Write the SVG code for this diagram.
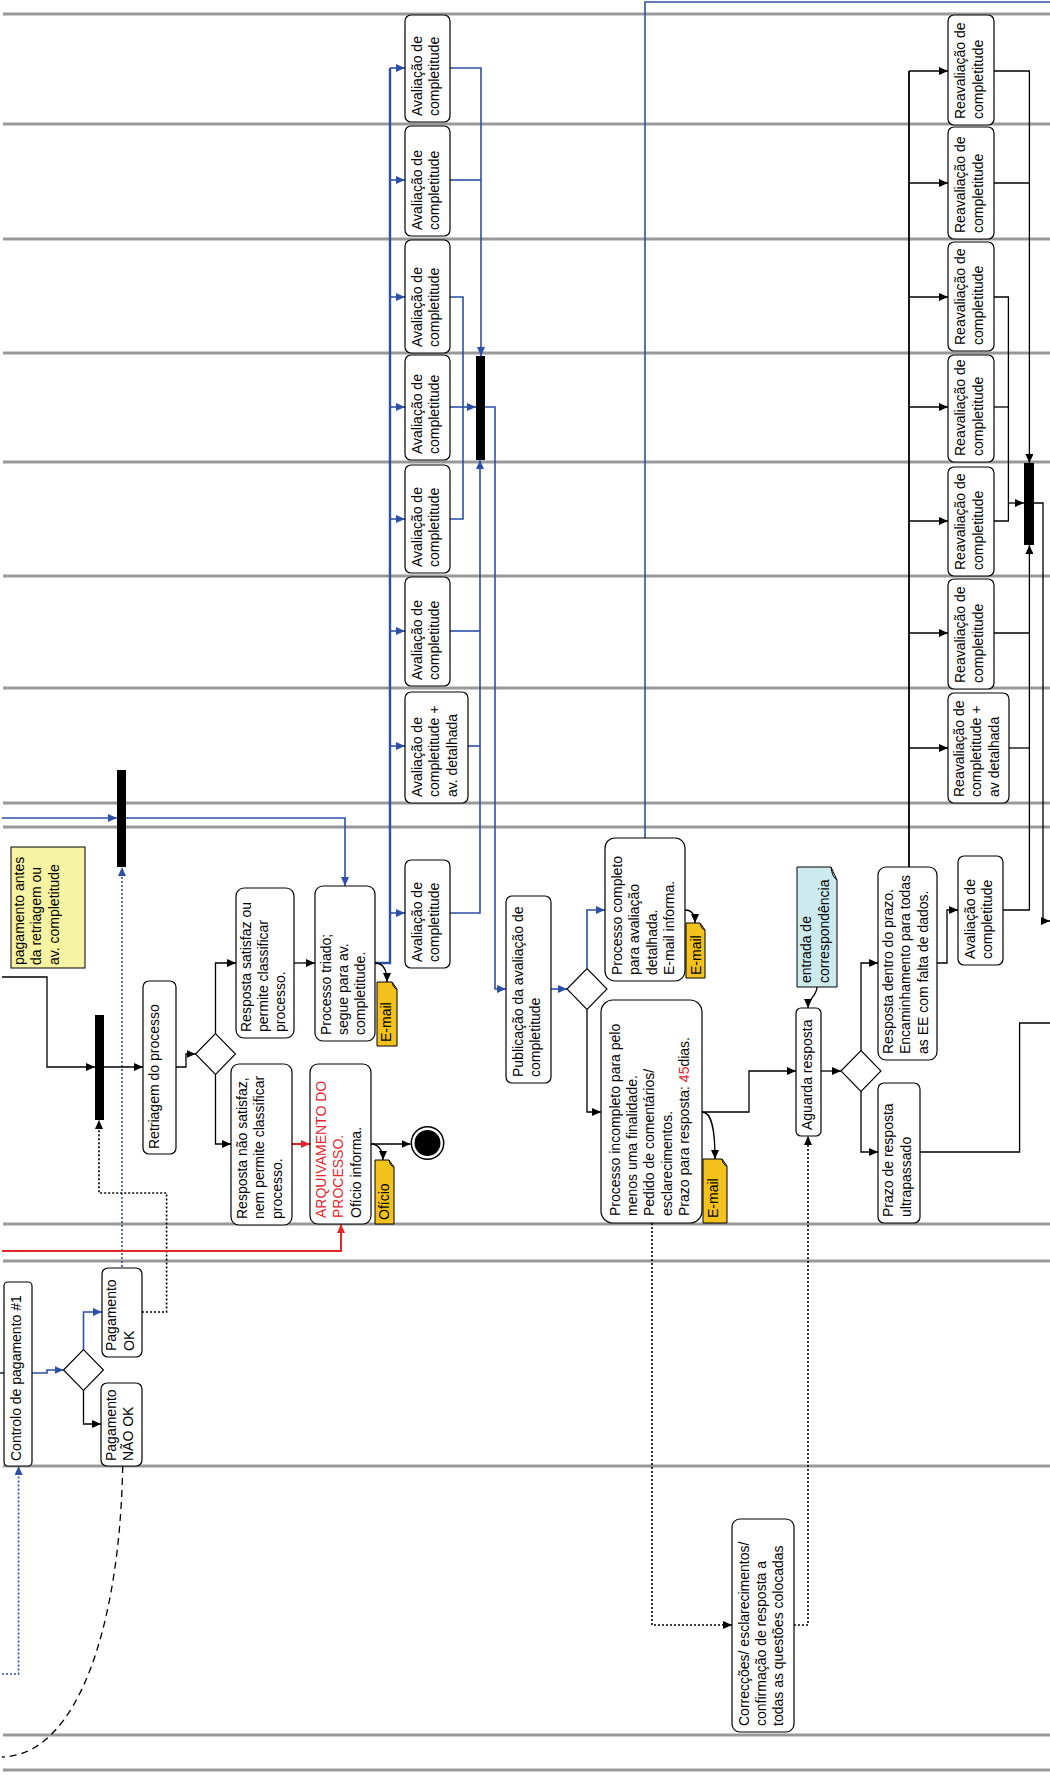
<svg xmlns="http://www.w3.org/2000/svg" width="1050" height="1775" viewBox="0 0 1050 1775">
<style>
.ln{stroke:#999;stroke-width:3}
.nd{fill:#fff;stroke:#000;stroke-width:1.2}
.dm{fill:#fff;stroke:#000;stroke-width:1.1}
.t{font-family:"Liberation Sans",Arial,sans-serif;font-size:14px;fill:#000}
.red{fill:#e3262b}
.k{fill:none;stroke:#000;stroke-width:1.3}
.b{fill:none;stroke:#2d50a7;stroke-width:1.6}
.bt{fill:none;stroke:#2d50a7;stroke-width:2.4}
.rd{fill:none;stroke:#e3262b;stroke-width:2}
.dot{stroke-dasharray:2 2;stroke-width:1.6}
.dash{stroke-dasharray:7 5}
.bar{fill:#000}
.gold{fill:#f4c21d;stroke:#000;stroke-width:1}
.cyan{fill:#cdebee;stroke:#000;stroke-width:1}
.yel{fill:#f6f3a3;stroke:#000;stroke-width:1}
</style>
<defs>
<marker id="ak" markerUnits="userSpaceOnUse" markerWidth="9" markerHeight="8" refX="9" refY="4" orient="auto" viewBox="0 0 9 8"><path d="M0,0 L9,4 L0,8 z" fill="#000"/></marker>
<marker id="ab" markerUnits="userSpaceOnUse" markerWidth="9" markerHeight="8" refX="9" refY="4" orient="auto" viewBox="0 0 9 8"><path d="M0,0 L9,4 L0,8 z" fill="#2d50a7"/></marker>
<marker id="ar" markerUnits="userSpaceOnUse" markerWidth="9" markerHeight="8" refX="9" refY="4" orient="auto" viewBox="0 0 9 8"><path d="M0,0 L9,4 L0,8 z" fill="#e3262b"/></marker>
</defs>

<g id="lanes">
<line class="ln" x1="3" y1="14" x2="1050" y2="14"/>
<line class="ln" x1="3" y1="124" x2="1050" y2="124"/>
<line class="ln" x1="3" y1="239" x2="1050" y2="239"/>
<line class="ln" x1="3" y1="353" x2="1050" y2="353"/>
<line class="ln" x1="3" y1="462" x2="1050" y2="462"/>
<line class="ln" x1="3" y1="576" x2="1050" y2="576"/>
<line class="ln" x1="3" y1="688" x2="1050" y2="688"/>
<line class="ln" x1="3" y1="803" x2="1050" y2="803"/>
<line class="ln" x1="3" y1="827" x2="1050" y2="827"/>
<line class="ln" x1="3" y1="1224" x2="1050" y2="1224"/>
<line class="ln" x1="3" y1="1261" x2="1050" y2="1261"/>
<line class="ln" x1="3" y1="1466" x2="1050" y2="1466"/>
<line class="ln" x1="3" y1="1735" x2="1050" y2="1735"/>
<line class="ln" x1="3" y1="1770" x2="1050" y2="1770"/>
</g>

<g id="connectors">
<!-- blue: avaliação fan-out -->
<path class="bt" d="M375,963 H390 V68"/>
<path class="b" d="M390,68 H405" marker-end="url(#ab)"/>
<path class="b" d="M390,180 H405" marker-end="url(#ab)"/>
<path class="b" d="M390,297 H405" marker-end="url(#ab)"/>
<path class="b" d="M390,407 H405" marker-end="url(#ab)"/>
<path class="b" d="M390,519 H405" marker-end="url(#ab)"/>
<path class="b" d="M390,631 H405" marker-end="url(#ab)"/>
<path class="b" d="M390,746 H405" marker-end="url(#ab)"/>
<path class="b" d="M390,913 H405" marker-end="url(#ab)"/>
<path class="b" d="M450,68 H481 V356" marker-end="url(#ab)"/>
<path class="b" d="M450,180 H481"/>
<path class="b" d="M450,297 H463 V519 H450"/>
<path class="b" d="M450,407 H476" marker-end="url(#ab)"/>
<path class="b" d="M485,407 H495 V989 H506" marker-end="url(#ab)"/>
<path class="b" d="M450,631 H480"/>
<path class="b" d="M468,746 H480"/>
<path class="b" d="M450,913 H480 V460" marker-end="url(#ab)"/>
<path class="b" d="M2,818 H117" marker-end="url(#ab)"/>
<path class="b" d="M126,818 H345 V886" marker-end="url(#ab)"/>
<path class="b dot" d="M122,1267 V867" marker-end="url(#ab)"/>
<path class="b" d="M551,989 H567" marker-end="url(#ab)"/>
<path class="b" d="M587,968.5 V910 H605" marker-end="url(#ab)"/>
<path class="b" d="M645,838 V2 H1050"/>
<path class="b" d="M32,1373 H47 V1370 H63.5" marker-end="url(#ab)"/>
<path class="b" d="M83.5,1349.5 V1312 H102" marker-end="url(#ab)"/>
<path class="b dot" d="M2,1674 H18.6 V1466" marker-end="url(#ab)"/>
<!-- black -->
<path class="k" d="M2,977 H47 V1067 H95" marker-end="url(#ak)"/>
<path class="k" d="M104,1067 H143" marker-end="url(#ak)"/>
<path class="k dot" d="M142,1312 H166.6 V1193 H99 V1120" marker-end="url(#ak)"/>
<path class="k" d="M176,1067 H186 V1054 H195.5" marker-end="url(#ak)"/>
<path class="k" d="M215.5,1033.5 V963 H236" marker-end="url(#ak)"/>
<path class="k" d="M215.5,1074.5 V1144 H231" marker-end="url(#ak)"/>
<path class="k" d="M294,963 H315" marker-end="url(#ak)"/>
<path class="k" d="M375,963 C383,963 387,970 387,982" marker-end="url(#ak)"/>
<path class="rd" d="M292,1144 H310" marker-end="url(#ar)"/>
<path class="k" d="M371,1144 H410.5" marker-end="url(#ak)"/>
<path class="k" d="M371,1144 C378,1144 383,1150 383,1160" marker-end="url(#ak)"/>
<path class="rd" d="M2,1251 H341 V1224" marker-end="url(#ar)"/>
<path class="k" d="M83.5,1390.5 V1424 H101" marker-end="url(#ak)"/>
<path class="k dash" d="M122.7,1466 C120,1620 80,1755 2,1757"/>
<path class="k" d="M0,1373 H4"/>
<path class="k" d="M587,1009.5 V1112 H601" marker-end="url(#ak)"/>
<path class="k" d="M685,910 C692,910 695,915 695,923" marker-end="url(#ak)"/>
<path class="k" d="M702,1112 H749 V1071 H796" marker-end="url(#ak)"/>
<path class="k" d="M702,1112 C712,1112 715,1130 715,1159" marker-end="url(#ak)"/>
<path class="k dot" d="M652,1223 V1625 H732" marker-end="url(#ak)"/>
<path class="k dot" d="M794,1625 H808 V1136" marker-end="url(#ak)"/>
<path class="k" d="M817,987 C817,996 808,998 808,1008" marker-end="url(#ak)"/>
<path class="k" d="M821,1071 H841" marker-end="url(#ak)"/>
<path class="k" d="M861,1050.5 V963 H878" marker-end="url(#ak)"/>
<path class="k" d="M861,1091.5 V1152 H878" marker-end="url(#ak)"/>
<path class="k" d="M937,963 H947 V910 H958" marker-end="url(#ak)"/>
<path class="k" d="M920,1152 H1019.6 V1023 H1050"/>
<!-- reavaliação fan-out -->
<path class="k" d="M909,867 V71" style="stroke-width:1.8"/>
<path class="k" d="M909,71 H948" marker-end="url(#ak)"/>
<path class="k" d="M909,183 H948" marker-end="url(#ak)"/>
<path class="k" d="M909,297 H948" marker-end="url(#ak)"/>
<path class="k" d="M909,407 H948" marker-end="url(#ak)"/>
<path class="k" d="M909,521 H948" marker-end="url(#ak)"/>
<path class="k" d="M909,633 H948" marker-end="url(#ak)"/>
<path class="k" d="M909,748 H948" marker-end="url(#ak)"/>
<path class="k" d="M994,71 H1029.4 V463" marker-end="url(#ak)"/>
<path class="k" d="M994,183 H1029.4"/>
<path class="k" d="M994,297 H1008.4 V521 H994"/>
<path class="k" d="M994,407 H1008.4"/>
<path class="k" d="M1008.4,503 H1024" marker-end="url(#ak)"/>
<path class="k" d="M994,633 H1029.4"/>
<path class="k" d="M1009,748 H1029.4"/>
<path class="k" d="M1003,910 H1029.4 V545" marker-end="url(#ak)"/>
<path class="k" d="M1034,503 H1043 V921 H1050" marker-end="url(#ak)"/>
</g>

<g id="bar-aval"><rect class="bar" x="476" y="356" width="9" height="104"/></g>
<g id="bar-reaval"><rect class="bar" x="1024" y="463" width="10" height="82"/></g>
<g id="bar-upper"><rect class="bar" x="117" y="770" width="9" height="97"/></g>
<g id="bar-lower"><rect class="bar" x="95" y="1015" width="9" height="105"/></g>

<g id="aval1"><rect class="nd" x="405" y="15" width="45" height="107" rx="6"/><text class="t" transform="translate(422,116) rotate(-90)"><tspan x="0">Avaliação de</tspan><tspan x="0" dy="17.3">completitude</tspan></text></g>
<g id="aval2"><rect class="nd" x="405" y="126" width="45" height="110" rx="6"/><text class="t" transform="translate(422,230) rotate(-90)"><tspan x="0">Avaliação de</tspan><tspan x="0" dy="17.3">completitude</tspan></text></g>
<g id="aval3"><rect class="nd" x="405" y="240" width="45" height="113" rx="6"/><text class="t" transform="translate(422,347) rotate(-90)"><tspan x="0">Avaliação de</tspan><tspan x="0" dy="17.3">completitude</tspan></text></g>
<g id="aval4"><rect class="nd" x="405" y="355" width="45" height="105" rx="6"/><text class="t" transform="translate(422,454) rotate(-90)"><tspan x="0">Avaliação de</tspan><tspan x="0" dy="17.3">completitude</tspan></text></g>
<g id="aval5"><rect class="nd" x="405" y="465" width="45" height="108" rx="6"/><text class="t" transform="translate(422,567) rotate(-90)"><tspan x="0">Avaliação de</tspan><tspan x="0" dy="17.3">completitude</tspan></text></g>
<g id="aval6"><rect class="nd" x="405" y="577" width="45" height="109" rx="6"/><text class="t" transform="translate(422,680) rotate(-90)"><tspan x="0">Avaliação de</tspan><tspan x="0" dy="17.3">completitude</tspan></text></g>
<g id="aval7"><rect class="nd" x="405" y="692" width="63" height="111" rx="6"/><text class="t" transform="translate(422.2,797) rotate(-90)"><tspan x="0">Avaliação de</tspan><tspan x="0" dy="17.3">completitude +</tspan><tspan x="0" dy="17.3">av. detalhada</tspan></text></g>
<g id="aval8"><rect class="nd" x="405" y="860" width="45" height="108" rx="6"/><text class="t" transform="translate(422,962) rotate(-90)"><tspan x="0">Avaliação de</tspan><tspan x="0" dy="17.3">completitude</tspan></text></g>

<g id="reav1"><rect class="nd" x="948" y="15" width="46" height="110" rx="6"/><text class="t" transform="translate(965.4,119) rotate(-90)"><tspan x="0">Reavaliação de</tspan><tspan x="0" dy="17.3">completitude</tspan></text></g>
<g id="reav2"><rect class="nd" x="948" y="127" width="46" height="112" rx="6"/><text class="t" transform="translate(965.4,233) rotate(-90)"><tspan x="0">Reavaliação de</tspan><tspan x="0" dy="17.3">completitude</tspan></text></g>
<g id="reav3"><rect class="nd" x="948" y="242" width="46" height="109" rx="6"/><text class="t" transform="translate(965.4,345) rotate(-90)"><tspan x="0">Reavaliação de</tspan><tspan x="0" dy="17.3">completitude</tspan></text></g>
<g id="reav4"><rect class="nd" x="948" y="355" width="46" height="107" rx="6"/><text class="t" transform="translate(965.4,456) rotate(-90)"><tspan x="0">Reavaliação de</tspan><tspan x="0" dy="17.3">completitude</tspan></text></g>
<g id="reav5"><rect class="nd" x="948" y="467" width="46" height="109" rx="6"/><text class="t" transform="translate(965.4,570) rotate(-90)"><tspan x="0">Reavaliação de</tspan><tspan x="0" dy="17.3">completitude</tspan></text></g>
<g id="reav6"><rect class="nd" x="948" y="579" width="46" height="110" rx="6"/><text class="t" transform="translate(965.4,683) rotate(-90)"><tspan x="0">Reavaliação de</tspan><tspan x="0" dy="17.3">completitude</tspan></text></g>
<g id="reav7"><rect class="nd" x="948" y="693" width="61" height="110" rx="6"/><text class="t" transform="translate(964.2,797) rotate(-90)"><tspan x="0">Reavaliação de</tspan><tspan x="0" dy="17.3">completitude +</tspan><tspan x="0" dy="17.3">av detalhada</tspan></text></g>

<g id="aval-right"><rect class="nd" x="958" y="856" width="45" height="109" rx="6"/><text class="t" transform="translate(975,959) rotate(-90)"><tspan x="0">Avaliação de</tspan><tspan x="0" dy="17.3">completitude</tspan></text></g>

<g id="proc-completo"><rect class="nd" x="605" y="838" width="80" height="143" rx="10"/><text class="t" transform="translate(622,975) rotate(-90)"><tspan x="0">Processo completo</tspan><tspan x="0" dy="17.3">para avaliação</tspan><tspan x="0" dy="17.3">detalhada.</tspan><tspan x="0" dy="17.3">E-mail informa.</tspan></text></g>
<g id="publicacao"><rect class="nd" x="506" y="896" width="45" height="187" rx="6"/><text class="t" transform="translate(522.9,1077) rotate(-90)"><tspan x="0">Publicação da avaliação de</tspan><tspan x="0" dy="17.3">completitude</tspan></text></g>
<g id="dec-completo"><polygon class="dm" points="567,989 587,968.5 607,989 587,1009.5"/></g>
<g id="proc-incompleto"><rect class="nd" x="601" y="1000" width="101" height="223" rx="12"/><text class="t" transform="translate(619.9,1216) rotate(-90)"><tspan x="0">Processo incompleto para pelo</tspan><tspan x="0" dy="17.3">menos uma finalidade.</tspan><tspan x="0" dy="17.3">Pedido de comentários/</tspan><tspan x="0" dy="17.3">esclarecimentos.</tspan><tspan x="0" dy="17.3">Prazo para resposta: <tspan class="red">45</tspan>dias.</tspan></text></g>
<g id="aguarda"><rect class="nd" x="796" y="1008" width="25" height="128" rx="5"/><text class="t" transform="translate(811.5,1130) rotate(-90)">Aguarda resposta</text></g>
<g id="entrada"><path class="cyan" d="M797,867 H831 L837,880 V987 H797 Z"/><path d="M831,867 Q832,877 837,880" fill="none" stroke="#000" stroke-width="1"/><text class="t" transform="translate(811.3,983) rotate(-90)"><tspan x="0">entrada de</tspan><tspan x="0" dy="17.3">correspondência</tspan></text></g>
<g id="dec-resposta"><polygon class="dm" points="841,1071 861,1050.5 881,1071 861,1091.5"/></g>
<g id="resp-dentro"><rect class="nd" x="878" y="867" width="59" height="193" rx="8"/><text class="t" transform="translate(893.2,1054) rotate(-90)"><tspan x="0">Resposta dentro do prazo.</tspan><tspan x="0" dy="17.3">Encaminhamento para todas</tspan><tspan x="0" dy="17.3">as EE com falta de dados.</tspan></text></g>
<g id="prazo-ultra"><rect class="nd" x="878" y="1083" width="42" height="140" rx="6"/><text class="t" transform="translate(893.4,1217) rotate(-90)"><tspan x="0">Prazo de resposta</tspan><tspan x="0" dy="17.3">ultrapassado</tspan></text></g>
<g id="correccoes"><rect class="nd" x="732" y="1519" width="62" height="213" rx="8"/><text class="t" transform="translate(748.7,1726) rotate(-90)"><tspan x="0">Correcções/ esclarecimentos/</tspan><tspan x="0" dy="17.3">confirmação de resposta a</tspan><tspan x="0" dy="17.3">todas as questões colocadas</tspan></text></g>

<g id="controlo"><rect class="nd" x="4" y="1282" width="28" height="184" rx="4"/><text class="t" transform="translate(21,1461) rotate(-90)">Controlo de pagamento #1</text></g>
<g id="dec-pagamento"><polygon class="dm" points="63.5,1370 83.5,1349.5 103.5,1370 83.5,1390.5"/></g>
<g id="pag-ok"><rect class="nd" x="102" y="1268" width="40" height="89" rx="6"/><text class="t" transform="translate(116.4,1351) rotate(-90)"><tspan x="0">Pagamento</tspan><tspan x="0" dy="17.3">OK</tspan></text></g>
<g id="pag-nao-ok"><rect class="nd" x="101" y="1383" width="41" height="83" rx="6"/><text class="t" transform="translate(115.9,1461) rotate(-90)"><tspan x="0">Pagamento</tspan><tspan x="0" dy="17.3">NÃO OK</tspan></text></g>

<g id="retriagem"><rect class="nd" x="143" y="981" width="33" height="173" rx="6"/><text class="t" transform="translate(158.5,1149) rotate(-90)">Retriagem do processo</text></g>
<g id="dec-retriagem"><polygon class="dm" points="195.5,1054 215.5,1033.5 235.5,1054 215.5,1074.5"/></g>
<g id="resp-satisfaz"><rect class="nd" x="236" y="888" width="58" height="150" rx="8"/><text class="t" transform="translate(250.7,1032) rotate(-90)"><tspan x="0">Resposta satisfaz ou</tspan><tspan x="0" dy="17.3">permite classificar</tspan><tspan x="0" dy="17.3">processo.</tspan></text></g>
<g id="resp-nao"><rect class="nd" x="231" y="1064" width="61" height="161" rx="8"/><text class="t" transform="translate(247.2,1219) rotate(-90)"><tspan x="0">Resposta não satisfaz,</tspan><tspan x="0" dy="17.3">nem permite classificar</tspan><tspan x="0" dy="17.3">processo.</tspan></text></g>
<g id="proc-triado"><rect class="nd" x="315" y="886" width="60" height="155" rx="8"/><text class="t" transform="translate(330.7,1035) rotate(-90)"><tspan x="0">Processo triado;</tspan><tspan x="0" dy="17.3">segue para av.</tspan><tspan x="0" dy="17.3">completitude.</tspan></text></g>
<g id="arquivamento"><rect class="nd" x="310" y="1064" width="61" height="160" rx="8"/><text class="t" transform="translate(326.2,1218) rotate(-90)"><tspan x="0" class="red">ARQUIVAMENTO DO</tspan><tspan x="0" dy="17.3" class="red">PROCESSO.</tspan><tspan x="0" dy="17.3">Ofício informa.</tspan></text></g>
<g id="fim"><circle cx="427.5" cy="1143" r="16.2" fill="#fff" stroke="#000" stroke-width="1.5"/><circle cx="427.5" cy="1143" r="13" fill="#000"/></g>

<g id="nota-pagamento"><rect class="yel" x="11" y="847" width="74" height="121"/><text class="t" transform="translate(24,965) rotate(-90)"><tspan x="0">pagamento antes</tspan><tspan x="0" dy="17.3">da retriagem ou</tspan><tspan x="0" dy="17.3">av. completitude</tspan></text></g>

<g id="email-triado"><path class="gold" d="M377,982 H392 L397,989 V1046 H377 Z"/><path d="M392,982 Q393,988 397,989" fill="none" stroke="#000" stroke-width="1"/><text class="t" transform="translate(391.4,1042) rotate(-90)">E-mail</text></g>
<g id="oficio"><path class="gold" d="M375,1160 H389 L394,1167 V1224 H375 Z"/><path d="M389,1160 Q390,1166 394,1167" fill="none" stroke="#000" stroke-width="1"/><text class="t" transform="translate(388.7,1220) rotate(-90)">Ofício</text></g>
<g id="email-completo"><path class="gold" d="M686,923 H700 L705,930 V978 H686 Z"/><path d="M700,923 Q701,929 705,930" fill="none" stroke="#000" stroke-width="1"/><text class="t" transform="translate(700.5,975) rotate(-90)">E-mail</text></g>
<g id="email-incompleto"><path class="gold" d="M703,1159 H722 L727,1166 V1223 H703 Z"/><path d="M722,1159 Q723,1165 727,1166" fill="none" stroke="#000" stroke-width="1"/><text class="t" transform="translate(717.7,1218) rotate(-90)">E-mail</text></g>
</svg>
